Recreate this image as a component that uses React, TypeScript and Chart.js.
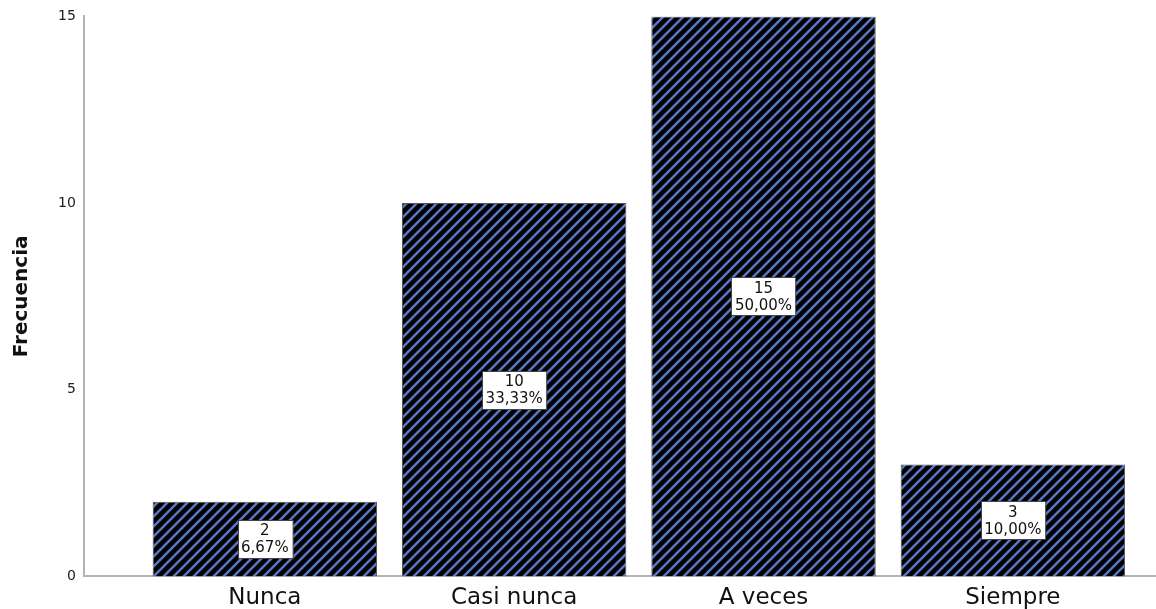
import { useEffect, useRef } from 'react';
import { Chart, registerables } from 'chart.js';

Chart.register(...registerables);

const categories = ['Nunca', 'Casi nunca', 'A veces', 'Siempre'];
const frequencies = [2, 10, 15, 3];
const percentLabels = ['6,67%', '33,33%', '50,00%', '10,00%'];
const yTicks = [0, 5, 10, 15];

export default function App() {
  const ref = useRef<HTMLCanvasElement>(null);

  useEffect(() => {
    const canvas = ref.current!;
    const tile = document.createElement('canvas');
    tile.width = 10;
    tile.height = 10;
    const t = tile.getContext('2d')!;
    t.fillStyle = '#000';
    t.fillRect(0, 0, 10, 10);
    t.strokeStyle = '#5576c4';
    t.lineWidth = 2.6;
    t.beginPath();
    t.moveTo(-2, 2); t.lineTo(2, -2);
    t.moveTo(-2, 12); t.lineTo(12, -2);
    t.moveTo(8, 12); t.lineTo(12, 8);
    t.stroke();
    const pattern = canvas.getContext('2d')!.createPattern(tile, 'repeat');

    const boxLabels = {
      id: 'boxLabels',
      afterDatasetsDraw(chart: any) {
        const ctx = chart.ctx;
        const meta = chart.getDatasetMeta(0);
        ctx.save();
        ctx.font = '15px "DejaVu Sans"';
        ctx.textAlign = 'center';
        ctx.textBaseline = 'middle';
        meta.data.forEach((bar: any, i: number) => {
          const { x, y, base } = bar.getProps(['x', 'y', 'base'], true);
          const cy = (y + base) / 2;
          const lines = [String(frequencies[i]), percentLabels[i]];
          const lh = 17;
          const w = Math.max(...lines.map((l) => ctx.measureText(l).width)) + 7;
          const h = lh * 2 + 4;
          const bx = Math.round(x - w / 2) + 0.5;
          const by = Math.round(cy - h / 2) + 0.5;
          ctx.fillStyle = '#fff';
          ctx.fillRect(bx, by, w, h);
          ctx.strokeStyle = '#444';
          ctx.lineWidth = 1;
          ctx.strokeRect(bx, by, w, h);
          ctx.fillStyle = '#111';
          lines.forEach((l, k) => ctx.fillText(l, x, cy - lh / 2 + k * lh + 1));
        });
        ctx.restore();
      },
    };

    const chart = new Chart(canvas, {
      type: 'bar',
      data: {
        datasets: [
          {
            data: categories.map((_, i) => ({ x: i, y: frequencies[i] })),
            backgroundColor: pattern as any,
            borderColor: '#555',
            borderWidth: 1,
            barPercentage: 0.9,
            categoryPercentage: 1,
          },
        ],
      },
      options: {
        animation: false,
        responsive: true,
        maintainAspectRatio: false,
        layout: { padding: { left: 10, top: 15, right: 0, bottom: 10 } },
        plugins: { legend: { display: false }, tooltip: { enabled: false } },
        scales: {
          x: {
            type: 'linear',
            offset: false,
            min: -0.726,
            max: 3.574,
            grid: { display: false, drawTicks: false, offset: false },
            border: { color: '#b4b4b4', width: 2 },
            afterBuildTicks: (s: any) => {
              s.ticks = categories.map((_, i) => ({ value: i }));
            },
            ticks: {
              callback: (v: any) => categories[v] ?? '',
              font: { family: 'DejaVu Sans', size: 23 },
              color: '#111',
              padding: 8,
              maxRotation: 0,
              autoSkip: false,
            },
          },
          y: {
            min: 0,
            max: 15,
            afterBuildTicks: (s: any) => {
              s.ticks = yTicks.map((v) => ({ value: v }));
            },
            ticks: { font: { family: 'DejaVu Sans', size: 14 }, color: '#222', padding: 8 },
            grid: { display: false, drawTicks: false },
            border: { color: '#b4b4b4', width: 2 },
            title: {
              display: true,
              text: 'Frecuencia',
              font: { family: 'DejaVu Sans', size: 20, weight: 'bold' },
              color: '#111',
              padding: { top: 0, bottom: 16 },
            },
          },
        },
      },
      plugins: [boxLabels],
    });
    return () => chart.destroy();
  }, []);

  return (
    <div style={{ position: 'fixed', top: 0, left: 0, width: 1156, height: 609, overflow: 'hidden', background: '#fff' }}>
      <div style={{ position: 'relative', width: 1156, height: 630 }}>
        <canvas ref={ref} />
      </div>
    </div>
  );
}
